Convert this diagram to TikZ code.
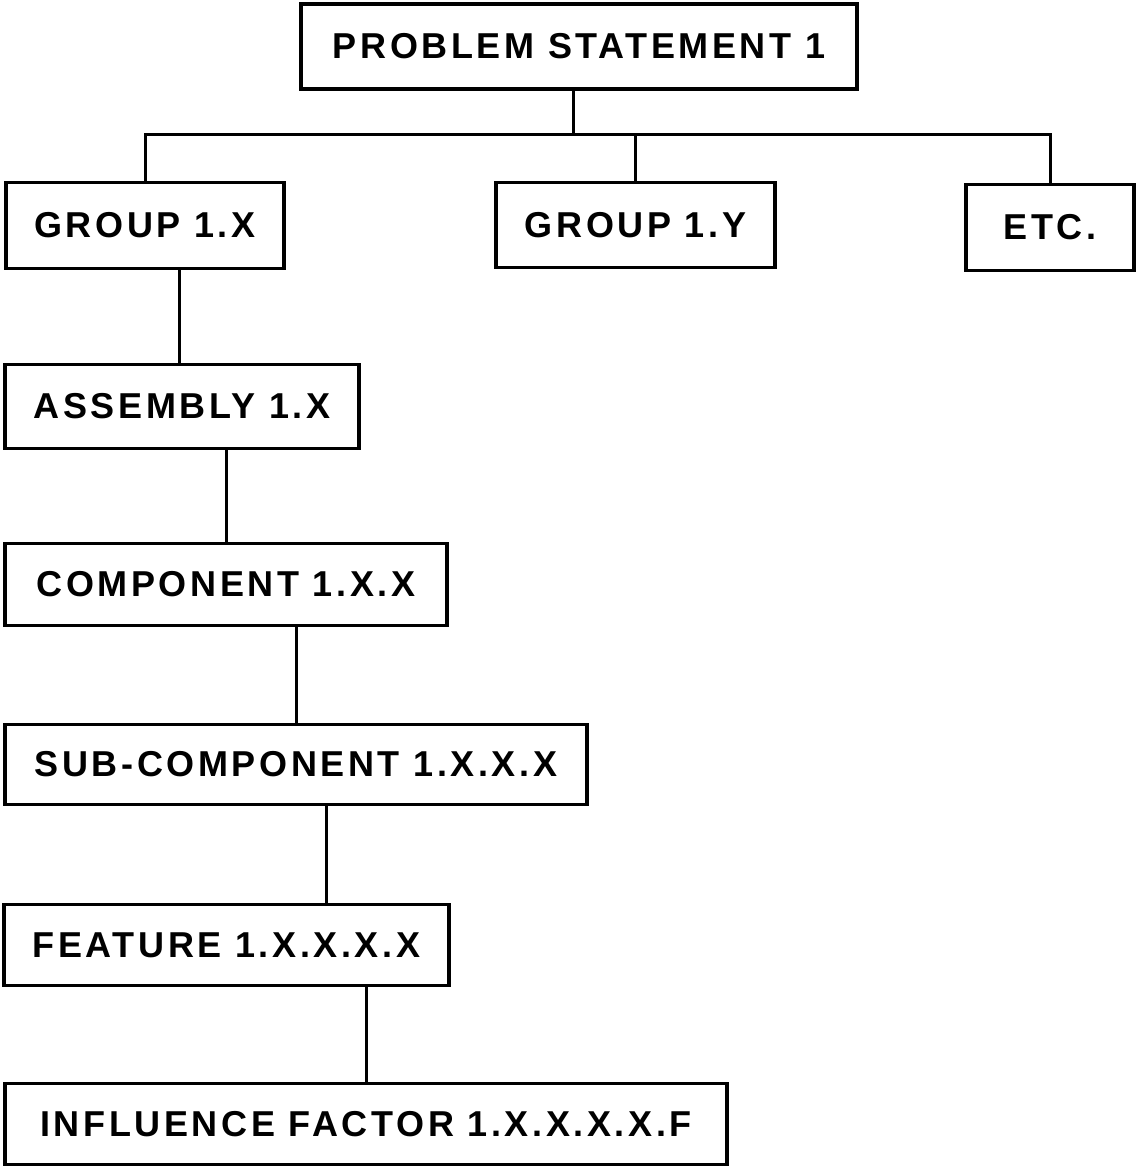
\documentclass[tikz,border=0pt]{standalone}
\usepackage{fontspec}
\setmainfont{Liberation Sans}[LetterSpace=10]
\begin{document}
\begin{tikzpicture}[x=1pt,y=-1pt,
  box/.style={draw, line width=3.5pt, inner sep=0pt, font=\fontsize{36}{40}\selectfont\bfseries, anchor=center},
  link/.style={line width=3pt}]
\useasboundingbox[fill=white] (0,0) rectangle (1137,1168);
\node[box, minimum width=556pt, minimum height=85pt] (ps)   at (579,46.5) {PROBLEM STATEMENT 1};
\node[box, minimum width=278pt, minimum height=86pt] (g1x)  at (145,225.5) {GROUP 1.X};
\node[box, minimum width=279pt, minimum height=85pt] (g1y)  at (635.5,225) {GROUP 1.Y};
\node[box, minimum width=168pt, minimum height=86pt] (etc)  at (1050,227.5) {ETC.};
\node[box, minimum width=354pt, minimum height=84pt] (asm)  at (182,406.5) {ASSEMBLY 1.X};
\node[box, minimum width=442pt, minimum height=82pt] (comp) at (226,584.5) {COMPONENT 1.X.X};
\node[box, minimum width=582pt, minimum height=80pt] (sub)  at (296,764.5) {SUB-COMPONENT 1.X.X.X};
\node[box, minimum width=445pt, minimum height=81pt] (feat) at (226.5,945) {FEATURE 1.X.X.X.X};
\node[box, minimum width=722pt, minimum height=81pt] (inf)  at (366,1124) {INFLUENCE FACTOR 1.X.X.X.X.F};
\coordinate (bus) at (573,134);
\draw[link] ([xshift=-6pt]ps.south) -- (bus);
\draw[link] (g1x.north) |- (bus) -| (etc.north);
\draw[link] (g1y.north) -- (g1y.north |- bus);
\draw[link] ([xshift=-3pt]asm.north) -- ([xshift=-3pt]asm.north |- g1x.south);
\draw[link] (comp.north) -- (comp.north |- asm.south);
\draw[link] (sub.north) -- (sub.north |- comp.south);
\draw[link] ([xshift=100pt]feat.north) -- ([xshift=100pt]feat.north |- sub.south);
\draw[link] (inf.north) -- (inf.north |- feat.south);
\end{tikzpicture}
\end{document}
